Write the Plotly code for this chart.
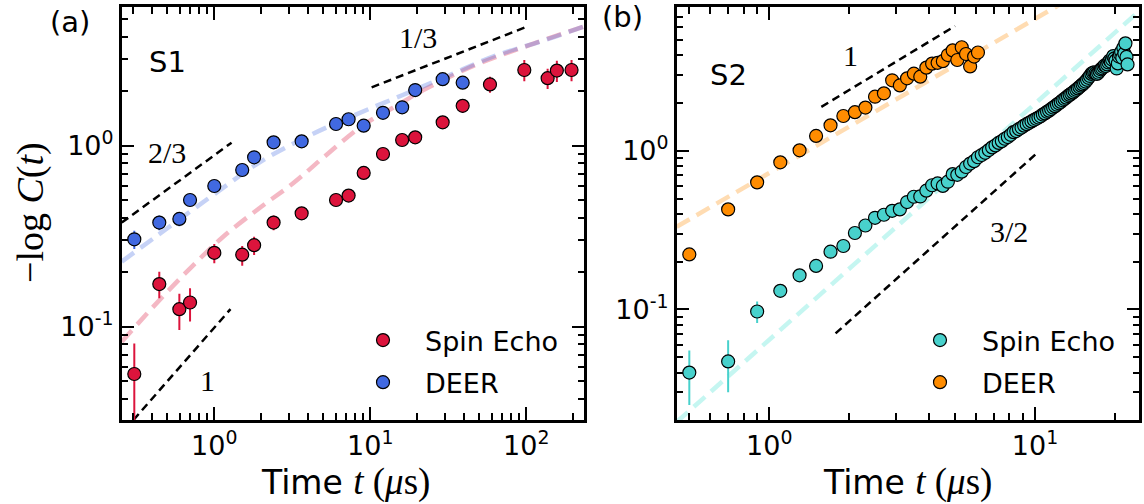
import plotly.graph_objects as go

W, H = 1144, 504

# ---------------- Panel (a): sample S1 ----------------
t_se_a = [0.307, 0.444, 0.597, 0.699, 1.0, 1.51, 1.80, 2.40, 3.63, 6.03, 7.26, 9.07,
          12.06, 16.0, 19.4, 29.1, 39.1, 58.5, 97.1, 137, 157, 195]
y_se_a = [0.0548, 0.172, 0.125, 0.136, 0.256, 0.250, 0.282, 0.376, 0.423, 0.501, 0.530,
          0.707, 0.90, 1.075, 1.112, 1.346, 1.66, 2.18, 2.62, 2.36, 2.60, 2.62]
e_se_a_up = [0.026, 0.029, 0.027, 0.027, 0.030, 0.029, 0.032, 0.035, 0.035, 0.03, 0.03,
             0.04, 0.05, 0.07, 0.07, 0.10, 0.14, 0.22, 0.35, 0.30, 0.35, 0.35]
e_se_a_dn = [0.030, 0.0285, 0.029, 0.029, 0.032, 0.033, 0.033, 0.035, 0.035, 0.03, 0.03,
             0.04, 0.05, 0.07, 0.07, 0.10, 0.14, 0.22, 0.35, 0.30, 0.35, 0.35]

t_deer_a = [0.307, 0.444, 0.597, 0.699, 1.0, 1.51, 1.80, 2.40, 3.63, 6.03, 7.26, 9.07,
            12.06, 16.0, 19.4, 29.1, 39.1]
y_deer_a = [0.304, 0.376, 0.394, 0.501, 0.599, 0.734, 0.863, 1.044, 1.057, 1.318, 1.40,
            1.29, 1.52, 1.63, 2.03, 2.33, 2.23]
e_deer_a = [0.035, 0.035, 0.035, 0.02, 0.02, 0.025, 0.03, 0.03, 0.03, 0.04, 0.04,
            0.05, 0.05, 0.06, 0.12, 0.15, 0.15]

fit_se_a_t = [0.255, 0.427, 0.7, 1.14, 2.0, 3.2, 5.0, 9.0, 14, 21.9, 45.7, 95.7, 231]
fit_se_a_y = [0.0826, 0.135, 0.21, 0.314, 0.46, 0.62, 0.86, 1.30, 1.62, 2.03, 2.76, 3.50, 4.54]
fit_deer_a_t = [0.255, 0.5, 1.0, 2.0, 4.0, 8.0, 16, 32, 64, 128, 231]
fit_deer_a_y = [0.229, 0.35, 0.54, 0.82, 1.13, 1.48, 1.90, 2.45, 3.15, 3.80, 4.54]

guide_a_23_t, guide_a_23_y = [0.255, 1.29], [0.376, 1.039]
guide_a_13_t, guide_a_13_y = [10.2, 100.6], [2.10, 4.54]
guide_a_1_t, guide_a_1_y = [0.303, 1.27], [0.0305, 0.125]

# ---------------- Panel (b): sample S2 ----------------
t_se_b = [0.5, 0.7, 0.9, 1.1, 1.3, 1.5, 1.7, 1.9, 2.1, 2.3, 2.5, 2.7, 2.9, 3.1, 3.3, 3.5, 3.7,
          3.9, 4.1, 4.3, 4.5, 4.7, 4.9, 5.1, 5.3, 5.5, 5.7, 5.9, 6.1, 6.3, 6.5, 6.7, 6.9, 7.1,
          7.3, 7.5, 7.7, 7.9, 8.1, 8.3, 8.5, 8.7, 8.9, 9.1, 9.3, 9.5, 9.7, 9.9, 10.1, 10.3,
          10.5, 10.7, 10.9, 11.1, 11.3, 11.5, 11.7, 11.9, 12.1, 12.3, 12.5, 12.7, 12.9, 13.1,
          13.3, 13.5, 13.7, 13.9, 14.1, 14.3, 14.5, 14.7, 14.9, 15.1, 15.3, 15.5, 15.7, 15.9,
          16.1, 16.3, 16.5, 16.7, 16.9, 17.1, 17.3, 17.5, 17.7, 17.9, 18.1, 18.3, 18.5, 18.7,
          18.9, 19.1, 19.3, 19.5, 19.7, 19.9, 20.1, 20.3, 20.5, 20.7, 20.9, 21.1, 21.3, 21.5,
          21.7, 21.9, 22.1, 22.3]
y_se_b = [0.040, 0.047, 0.097, 0.131, 0.164, 0.188, 0.231, 0.251, 0.303, 0.338, 0.378, 0.395,
          0.418, 0.427, 0.475, 0.513, 0.515, 0.560, 0.606, 0.622, 0.600, 0.638, 0.712, 0.705,
          0.738, 0.79, 0.83, 0.86, 0.91, 0.94, 0.97, 1.01, 1.05, 1.08, 1.12, 1.15, 1.19, 1.22,
          1.26, 1.31, 1.33, 1.37, 1.40, 1.44, 1.47, 1.50, 1.53, 1.56, 1.59, 1.62, 1.65, 1.69,
          1.72, 1.76, 1.79, 1.83, 1.87, 1.91, 1.95, 1.99, 2.03, 2.08, 2.12, 2.16, 2.21, 2.25,
          2.29, 2.33, 2.38, 2.42, 2.47, 2.52, 2.57, 2.62, 2.67, 2.73, 2.80, 2.88, 2.96, 3.05,
          3.10, 3.12, 3.08, 3.05, 3.10, 3.18, 3.26, 3.31, 3.38, 3.45, 3.42, 3.50, 3.60, 3.70,
          3.64, 3.76, 3.95, 3.82, 3.70, 3.30, 3.55, 3.92, 4.05, 4.20, 3.85, 4.45, 4.10, 4.75,
          3.90, 3.50]
e_se_b_early = [0.015, 0.017, 0.015]
SE_B_REL_ERR = 0.05

t_deer_b = [0.5, 0.7, 0.9, 1.1, 1.3, 1.5, 1.7, 1.9, 2.1, 2.3, 2.5, 2.7, 2.9, 3.1, 3.3, 3.5,
            3.7, 3.9, 4.1, 4.3, 4.5, 4.7, 4.9, 5.1, 5.3, 5.5, 5.7, 5.9, 6.1]
y_deer_b = [0.222, 0.427, 0.632, 0.845, 1.006, 1.24, 1.446, 1.655, 1.75, 1.87, 2.19, 2.30,
            2.78, 2.58, 2.86, 3.06, 2.93, 3.34, 3.54, 3.58, 3.67, 4.01, 4.29, 3.73, 4.49,
            4.07, 3.40, 3.92, 4.16]
e_deer_b = [0.01, 0.015, 0.02, 0.03, 0.03, 0.04, 0.05, 0.05, 0.06, 0.06, 0.08, 0.08, 0.12,
            0.12, 0.14, 0.16, 0.16, 0.18, 0.2, 0.2, 0.22, 0.25, 0.45, 0.25, 0.45, 0.3, 0.3,
            0.3, 0.3]

fit_se_b_t, fit_se_b_y = [0.448, 24.7], [0.0195, 7.6]
fit_deer_b_t, fit_deer_b_y = [0.448, 24.7], [0.332, 16.3]

guide_b_1_t, guide_b_1_y = [1.57, 5.0], [1.89, 6.11]
guide_b_32_t, guide_b_32_y = [1.776, 10.08], [0.0706, 0.953]

# ---------------- styling ----------------
RED, BLUE = "#DC143C", "#4169E1"
CYAN, ORANGE = "#48D1CC", "#FF8C00"
FIT_RED, FIT_BLUE = "rgba(220,20,60,0.3)", "rgba(65,105,225,0.3)"
FIT_CYAN, FIT_ORANGE = "rgba(64,224,208,0.3)", "rgba(255,140,0,0.3)"
SANS = "DejaVu Sans"
SERIF = "Liberation Serif"

fig = go.Figure()


def fit_line(t, y, color, xa, ya):
    fig.add_trace(go.Scatter(x=t, y=y, mode="lines", xaxis=xa, yaxis=ya, showlegend=False,
                             line=dict(color=color, width=4.5, dash="15px,8px", shape="spline"),
                             hoverinfo="skip"))


def guide(t, y, xa, ya):
    fig.add_trace(go.Scatter(x=t, y=y, mode="lines", xaxis=xa, yaxis=ya, showlegend=False,
                             line=dict(color="black", width=2.5, dash="8px,5px"),
                             hoverinfo="skip"))


def points(t, y, up, dn, color, name, xa, ya, legend):
    fig.add_trace(go.Scatter(
        x=t, y=y, mode="markers", name=name, xaxis=xa, yaxis=ya, legend=legend,
        legendgroup=legend + name,
        marker=dict(color=color, size=13, line=dict(color="black", width=1.2)),
        error_y=dict(type="data", array=up, arrayminus=dn, color=color, thickness=2, width=0,
                     symmetric=False)))


# panel (a)
fit_line(fit_se_a_t, fit_se_a_y, FIT_RED, "x", "y")
fit_line(fit_deer_a_t, fit_deer_a_y, FIT_BLUE, "x", "y")
guide(guide_a_23_t, guide_a_23_y, "x", "y")
guide(guide_a_13_t, guide_a_13_y, "x", "y")
guide(guide_a_1_t, guide_a_1_y, "x", "y")
points(t_se_a, y_se_a, e_se_a_up, e_se_a_dn, RED, "Spin Echo", "x", "y", "legend")
points(t_deer_a, y_deer_a, e_deer_a, e_deer_a, BLUE, "DEER", "x", "y", "legend")

# panel (b)
fit_line(fit_se_b_t, fit_se_b_y, FIT_CYAN, "x2", "y2")
fit_line(fit_deer_b_t, fit_deer_b_y, FIT_ORANGE, "x2", "y2")
guide(guide_b_1_t, guide_b_1_y, "x2", "y2")
guide(guide_b_32_t, guide_b_32_y, "x2", "y2")
e_se_b = e_se_b_early + [SE_B_REL_ERR * v for v in y_se_b[len(e_se_b_early):]]
points(t_se_b, y_se_b, e_se_b, e_se_b, CYAN, "Spin Echo", "x2", "y2", "legend2")
points(t_deer_b, y_deer_b, e_deer_b, e_deer_b, ORANGE, "DEER", "x2", "y2", "legend2")

YDOM = [1 - 420 / H, 1 - 7.3 / H]


def axis(domain, rng, tickvals, ticktext, minorvals, anchor):
    return dict(
        type="log", domain=domain, range=rng, anchor=anchor,
        showline=True, linecolor="black", linewidth=2.5, mirror="allticks",
        ticks="inside", ticklen=13, tickwidth=2, tickcolor="black",
        tickvals=tickvals, ticktext=ticktext,
        tickfont=dict(family=SANS, size=27, color="black"),
        minor=dict(ticks="inside", ticklen=7, tickwidth=1.5, tickcolor="black",
                   tickvals=minorvals, showgrid=False),
        showgrid=False, zeroline=False,
    )


def sup(p):
    return "10<sup>%s</sup>" % p


minor_a_x = [0.3, 0.4, 0.5, 0.6, 0.7, 0.8, 0.9, 2, 3, 4, 5, 6, 7, 8, 9,
             20, 30, 40, 50, 60, 70, 80, 90, 200]
minor_a_y = [0.04, 0.05, 0.06, 0.07, 0.08, 0.09, 0.2, 0.3, 0.4, 0.5, 0.6, 0.7, 0.8, 0.9,
             2, 3, 4, 5]
minor_b_x = [0.5, 0.6, 0.7, 0.8, 0.9, 2, 3, 4, 5, 6, 7, 8, 9, 20]
minor_b_y = [0.03, 0.04, 0.05, 0.06, 0.07, 0.08, 0.09, 0.2, 0.3, 0.4, 0.5, 0.6, 0.7, 0.8,
             0.9, 2, 3, 4, 5, 6, 7, 8]

LEG = dict(xanchor="left", yanchor="top", font=dict(family=SANS, size=27, color="black"),
           bgcolor="rgba(0,0,0,0)", tracegroupgap=4, itemwidth=74)

fig.update_layout(
    width=W, height=H, margin=dict(l=0, r=0, t=0, b=0),
    paper_bgcolor="white", plot_bgcolor="white",
    xaxis=axis([121.7 / W, 584.3 / W], [-0.5936, 2.3718], [1, 10, 100],
               [sup(0), sup(1), sup(2)], minor_a_x, "y"),
    yaxis=axis(YDOM, [-1.5155, 0.7646], [0.1, 1], [sup("-1"), sup(0)], minor_a_y, "x"),
    xaxis2=axis([676.7 / W, 1139.3 / W], [-0.3485, 1.3926], [1, 10],
                [sup(0), sup(1)], minor_b_x, "y2"),
    yaxis2=axis(YDOM, [-1.697, 0.904], [0.1, 1], [sup("-1"), sup(0)], minor_b_y, "x2"),
    legend=dict(x=341 / W, y=1 - 316 / H, **LEG),
    legend2=dict(x=898 / W, y=1 - 316 / H, **LEG),
    showlegend=True,
)


def label(text, px, py, size, family, **kw):
    fig.add_annotation(text=text, x=px / W, y=1 - py / H, xref="paper", yref="paper",
                       showarrow=False, xanchor=kw.pop("xanchor", "center"),
                       yanchor=kw.pop("yanchor", "middle"),
                       font=dict(family=family, size=size, color="black"), **kw)


label("(a)", 70, 22, 29, SANS)
label("(b)", 622, 17, 29, SANS)
label("S1", 167, 62, 29, SANS)
label("S2", 728, 75, 29, SANS)
label("2/3", 167, 152, 30, SERIF)
label("1/3", 418, 38, 30, SERIF)
label("1", 207, 380, 30, SERIF)
label("1", 850, 55, 30, SERIF)
label("3/2", 1009, 232, 30, SERIF)

xtitle = ("Time <span style=\"font-family:'%s';font-size:37px\"><i>t</i> (<i>\u03bc</i>s)</span>"
          % SERIF)
label(xtitle, 345, 482, 33, SANS)
label(xtitle, 907, 482, 33, SANS)
label("\u2212log <i>C</i>(<i>t</i>)", 30, 213, 38, SERIF, textangle=-90)

fig.write_html("out.html")
